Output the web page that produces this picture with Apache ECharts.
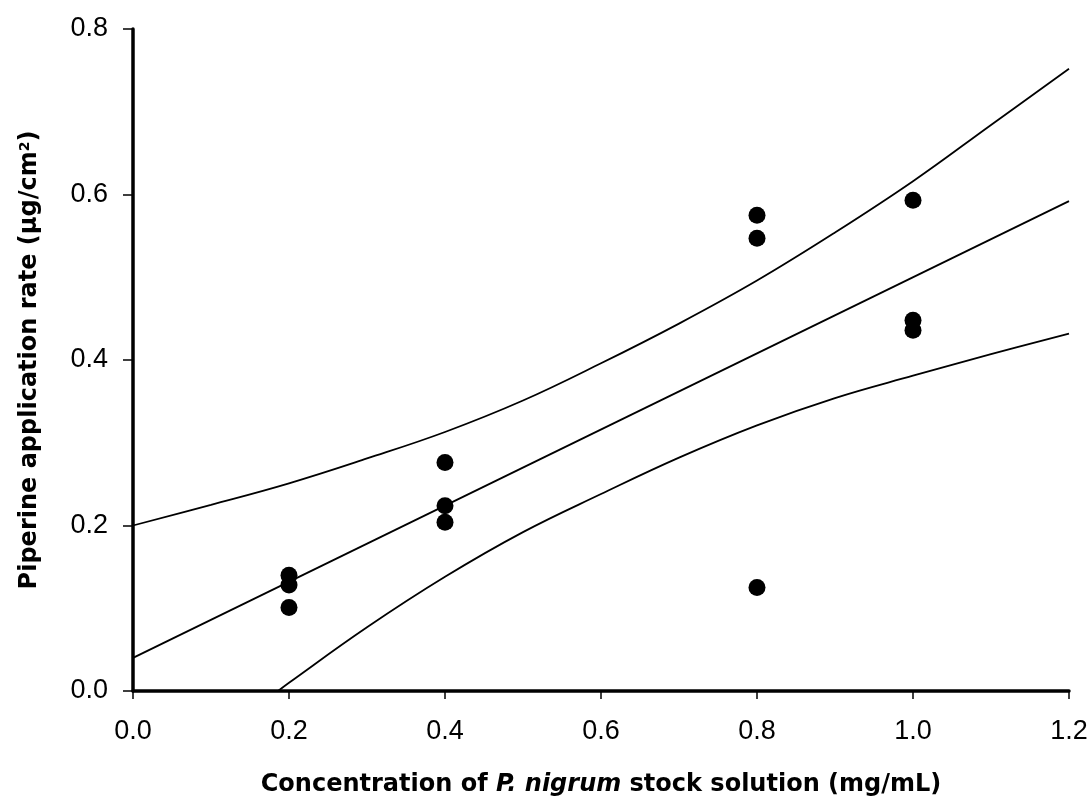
<!DOCTYPE html>
<html>
<head>
<meta charset="utf-8">
<script src="https://cdn.jsdelivr.net/npm/echarts@6/dist/echarts.min.js"></script>
<style>
html,body{margin:0;padding:0;background:#fff;}
#chart{width:1091px;height:803px;}
</style>
</head>
<body>
<div id="chart"></div>
<script>
// Observed data points (x = stock concentration mg/mL, y = application rate)
const obsX = [0.2, 0.2, 0.2, 0.4, 0.4, 0.4, 0.8, 0.8, 0.8, 1.0, 1.0, 1.0];
const obsY = [0.140, 0.128, 0.101, 0.276, 0.224, 0.204, 0.575, 0.547, 0.125, 0.593, 0.448, 0.436];

// Regression line
const fitX = [0.0, 1.2];
const fitY = [0.040, 0.592];

// Upper confidence curve
const upperX = [0.0, 0.1, 0.2, 0.3, 0.4, 0.5, 0.6, 0.7, 0.8, 0.9, 1.0, 1.1, 1.2];
const upperY = [0.200, 0.225, 0.251, 0.281, 0.313, 0.351, 0.396, 0.444, 0.496, 0.554, 0.616, 0.684, 0.752];

// Lower confidence curve
const lowerX = [0.186, 0.2, 0.3, 0.4, 0.5, 0.6, 0.7, 0.8, 0.9, 1.0, 1.1, 1.2];
const lowerY = [0.000, 0.010, 0.077, 0.138, 0.192, 0.238, 0.282, 0.321, 0.354, 0.381, 0.407, 0.432];

// Axis ticks
const xTicks = {min: 0, max: 1.2, interval: 0.2};
const yTicks = {min: 0, max: 0.8, interval: 0.2};

const zip = (xs, ys) => xs.map((x, i) => [x, ys[i]]);

const chart = echarts.init(document.getElementById('chart'), null, {renderer: 'canvas'});
const FONT = "'Liberation Sans', Arial, sans-serif";
const TFONT = "'DejaVu Sans', 'Liberation Sans', sans-serif";
const lineStyle = {color: '#000', width: 1.8};

chart.setOption({
  backgroundColor: '#fff',
  animation: false,
  grid: {left: 133, right: 22, top: 29, bottom: 112, containLabel: false},
  xAxis: {
    type: 'value',
    min: xTicks.min, max: xTicks.max, interval: xTicks.interval,
    axisLine: {show: true, onZero: false, lineStyle: {color: '#000', width: 3.5}},
    axisTick: {show: true, inside: false, length: 8, lineStyle: {color: '#000', width: 1.5}},
    splitLine: {show: false},
    axisLabel: {color: '#000', fontFamily: FONT, fontSize: 27, margin: 27,
      formatter: v => v.toFixed(1)},
    name: '{b|Concentration of }{i|P. nigrum}{b| stock solution (mg/mL)}',
    nameLocation: 'middle',
    nameGap: 82,
    nameTextStyle: {
      rich: {
        b: {fontFamily: TFONT, fontWeight: 'bold', fontSize: 24, color: '#000'},
        i: {fontFamily: TFONT, fontWeight: 'bold', fontStyle: 'italic', fontSize: 24, color: '#000'}
      }
    }
  },
  yAxis: {
    type: 'value',
    min: yTicks.min, max: yTicks.max, interval: yTicks.interval,
    axisLine: {show: true, onZero: false, lineStyle: {color: '#000', width: 3.5}},
    axisTick: {show: true, inside: false, length: 10, lineStyle: {color: '#000', width: 1.5}},
    splitLine: {show: false},
    axisLabel: {color: '#000', fontFamily: FONT, fontSize: 27, margin: 25,
      formatter: v => v.toFixed(1)},
    name: '{b|Piperine application rate (μg/cm}{s|2}{b|)}',
    nameLocation: 'middle',
    nameGap: 91,
    nameTextStyle: {
      rich: {
        b: {fontFamily: TFONT, fontWeight: 'bold', fontSize: 24, color: '#000'},
        s: {fontFamily: TFONT, fontWeight: 'bold', fontSize: 14, color: '#000', verticalAlign: 'top', padding: [0, 0, 0, 0]}
      }
    }
  },
  series: [
    {type: 'line', data: zip(upperX, upperY), smooth: 0.4, showSymbol: false, lineStyle: lineStyle, z: 2},
    {type: 'line', data: zip(fitX, fitY), showSymbol: false, lineStyle: lineStyle, z: 2},
    {type: 'line', data: zip(lowerX, lowerY), smooth: 0.4, showSymbol: false, lineStyle: lineStyle, z: 2},
    {type: 'scatter', data: zip(obsX, obsY), symbol: 'circle', symbolSize: 17,
      itemStyle: {color: '#000', opacity: 1}, z: 3}
  ]
});
</script>
</body>
</html>
